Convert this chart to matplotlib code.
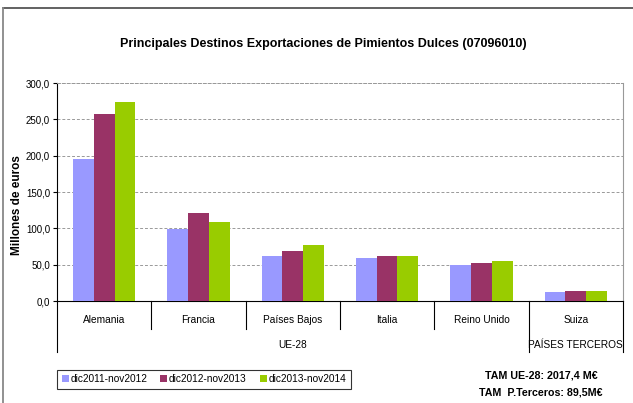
import matplotlib
matplotlib.use('Agg')
import matplotlib.pyplot as plt
from matplotlib.lines import Line2D
from matplotlib.ticker import FuncFormatter
import numpy as np

plt.rcParams['font.family'] = ['Liberation Sans', 'DejaVu Sans']

countries = ['Alemania', 'Francia', 'Países Bajos', 'Italia', 'Reino Unido', 'Suiza']
groups = ['UE-28', 'PAÍSES TERCEROS']
group_sizes = [5, 1]
series_names = ['dic2011-nov2012', 'dic2012-nov2013', 'dic2013-nov2014']
v_2012 = [196, 99, 62, 59, 49.5, 12.4]
v_2013 = [257, 121, 69, 62, 53, 14]
v_2014 = [274, 109, 77, 62, 55, 14]
colors = ['#9999FF', '#993366', '#99CC00']

fig = plt.figure(figsize=(6.33, 4.03), dpi=100)
ax = fig.add_axes([0.090, 0.253, 0.894, 0.541])

x = np.arange(len(countries))
w = 0.22
for i, (vals, c, name) in enumerate(zip([v_2012, v_2013, v_2014], colors, series_names)):
    ax.bar(x + (i - 1) * w, vals, width=w, color=c, label=name, zorder=3)

ax.set_xlim(-0.5, len(countries) - 0.5)
ax.set_ylim(0, 300)
ax.set_yticks(np.arange(0, 301, 50))
ax.yaxis.set_major_formatter(FuncFormatter(lambda v, p: f'{v:.1f}'.replace('.', ',')))
ax.tick_params(axis='y', labelsize=7, length=3, direction='out', pad=2)
ax.set_xticks([])
ax.grid(axis='y', color='#999999', linestyle=(0, (3, 2)), linewidth=0.7, zorder=0)
ax.spines['top'].set_color('#999999')
ax.spines['top'].set_linestyle((0, (3, 2)))
ax.spines['top'].set_linewidth(0.7)
ax.spines['right'].set_color('#999999')
ax.spines['left'].set_color('black')
ax.spines['bottom'].set_color('black')

fig.text(0.027, 0.49, 'Millones de euros', rotation=90, ha='center', va='center',
         fontsize=8.5, fontweight='bold')

# category labels and separators
tr = ax.get_xaxis_transform()
for xi, name in zip(x, countries):
    ax.text(xi, -0.085, name, transform=tr, ha='center', va='center', fontsize=7.3)
bounds = np.cumsum([0] + group_sizes) - 0.5
for b in np.arange(-0.5, len(countries)):
    long_line = b in bounds
    ax.plot([b, b], [0, -0.235 if long_line else -0.13], transform=tr,
            color='black', lw=0.8, clip_on=False)
for gi, g in enumerate(groups):
    ax.text((bounds[gi] + bounds[gi + 1]) / 2, -0.2, g, transform=tr,
            ha='center', va='center', fontsize=7.3)

fig.text(0.51, 0.89, 'Principales Destinos Exportaciones de Pimientos Dulces (07096010)',
         ha='center', va='center', fontsize=9, fontweight='bold')

leg = fig.legend(loc='lower left', bbox_to_anchor=(0.090, 0.035), ncol=3, fontsize=7.3,
                 frameon=True, fancybox=False, edgecolor='black', handlelength=0.7,
                 handleheight=0.7, handletextpad=0.15, columnspacing=1.3, borderpad=0.45,
                 borderaxespad=0)
leg.get_frame().set_linewidth(0.8)

fig.text(0.855, 0.068, 'TAM UE-28: 2017,4 M€', ha='center', va='center',
         fontsize=7.7, fontweight='bold')
fig.text(0.855, 0.025, 'TAM  P.Terceros: 89,5M€', ha='center', va='center',
         fontsize=7.7, fontweight='bold')

# outer chart frame (top and left edges visible)
fig.add_artist(Line2D([0.005, 1.0], [0.98, 0.98], transform=fig.transFigure,
                      color='#555555', lw=1.3))
fig.add_artist(Line2D([0.005, 0.005], [0.0, 0.98], transform=fig.transFigure,
                      color='#888888', lw=1.3))

fig.savefig('out.png', dpi=100)
